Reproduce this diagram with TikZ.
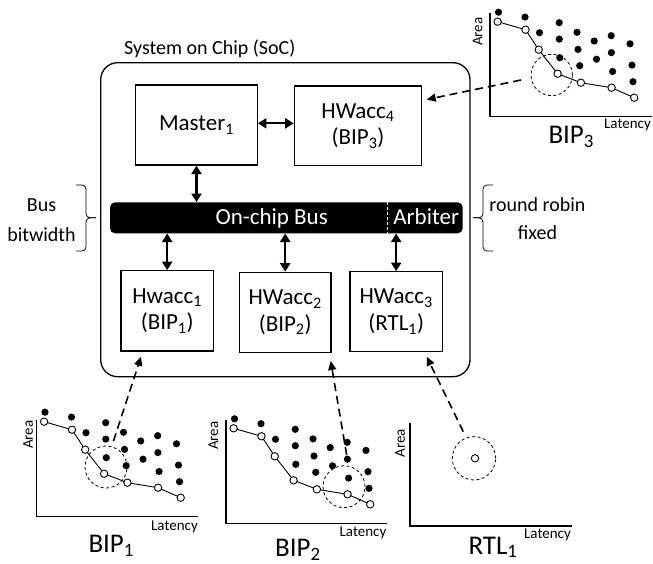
\documentclass[tikz,border=0pt]{standalone}
\usepackage{fontspec}
\setmainfont{Carlito}
\usetikzlibrary{arrows.meta}

\tikzset{
  blk/.style={draw, line width=1.2pt, align=center, inner sep=0pt,
              font=\fontsize{23}{26.5}\selectfont},
  soc/.style={draw, line width=1.3pt, rounded corners=17pt, inner sep=0pt},
  busbar/.style={fill=black, rounded corners=5pt, inner sep=0pt},
  bustext/.style={text=white, anchor=base, inner sep=0pt, font=\fontsize{23}{26}\selectfont},
  sidetext/.style={anchor=base, inner sep=0pt, font=\fontsize{20}{24}\selectfont},
  dbl/.style={line width=2.3pt, {Triangle[length=8.5pt,width=10pt]}-{Triangle[length=8.5pt,width=10pt]}},
  dasharrow/.style={line width=1.6pt, dash pattern=on 8pt off 5pt, -{Triangle[length=9pt,width=8pt]}},
  bracket/.style={line width=0.8pt, rounded corners=4pt},
  axisline/.style={line width=1.3pt},
  curve/.style={line width=0.9pt},
  opendot/.style={draw, fill=white, line width=0.9pt},
  ring/.style={line width=0.8pt, dash pattern=on 3pt off 2.5pt},
  axlab/.style={inner sep=0pt, font=\fontsize{15}{17}\selectfont},
  plotname/.style={anchor=base west, inner sep=0pt, font=\fontsize{27}{30}\selectfont},
}

% design points of one area/latency cloud, relative to the axis corner
\newcommand\drawcloud{%
  \foreach \px/\py in {8.5/-104.5, 35/-99.6, 49.5/-84, 69.2/-94, 69.3/-77.6,
      69.8/-59, 87/-84.4, 88/-67.3, 89.7/-51, 104.2/-75.7, 106.5/-57.5,
      121.2/-81, 121.4/-64.1, 122.6/-45.2, 140/-72.9, 142/-51.6, 143/-35}
    {\fill (\px,\py) circle[radius=3.6pt];}
  \draw[curve] (7.6,-95) -- (35.5,-87) -- (48.7,-67) -- (67.6,-43)
     -- (90.9,-34) -- (121.6,-29) -- (144.2,-19);
  \foreach \px/\py in {7.6/-95, 35.5/-87, 48.7/-67, 67.6/-43, 90.9/-34,
      121.6/-29, 144.2/-19}
    {\draw[opendot] (\px,\py) circle[radius=3.7pt];}
}

\begin{document}
\begin{tikzpicture}[x=1pt,y=-1pt]
\useasboundingbox (0,0) rectangle (653,564);

% ---- system on chip ----
\node[sidetext, anchor=base west] (soctitle) at (124,55) {System on Chip (SoC)};
\node[soc, minimum width=369.3pt, minimum height=314pt] (soc) at (285.35,219.7) {};

\node[blk, minimum width=121.6pt, minimum height=80pt] (master) at (196.5,125) {Master\textsubscript{1}};
\node[blk, minimum width=127.4pt, minimum height=79.7pt] (hw4) at (358,125.85) {HWacc\textsubscript{4}\\(BIP\textsubscript{3})};

\node[busbar, minimum width=352.7pt, minimum height=31pt] (bus) at (286.35,217.8) {};
\node[bustext] (bustxt) at (271.7,224.3) {On-chip Bus};
\node[bustext] (arb) at (426.2,224.3) {Arbiter};
\draw[white, line width=1pt, dash pattern=on 3pt off 2pt] (bus.north -| 387,0) -- (bus.south -| 387,0);

\node[blk, minimum width=92.3pt, minimum height=80.3pt] (hw1) at (167.2,310.9) {Hwacc\textsubscript{1}\\(BIP\textsubscript{1})};
\node[blk, minimum width=91.7pt, minimum height=80.4pt] (hw2) at (285.2,312.5) {HWacc\textsubscript{2}\\(BIP\textsubscript{2})};
\node[blk, minimum width=92.3pt, minimum height=80pt] (hw3) at (396.2,311.7) {HWacc\textsubscript{3}\\(RTL\textsubscript{1})};

\draw[dbl] (master.east |- 0,123.3) -- (hw4.west |- 0,123.3);
\draw[dbl] (master.south) -- (master.south |- bus.north);
\draw[dbl] (hw1.north) -- (hw1.north |- bus.south);
\draw[dbl] (hw2.north) -- (hw2.north |- bus.south);
\draw[dbl] (hw3.north) -- (hw3.north |- bus.south);

% ---- bus parameters ----
\draw[bracket] (76,185) -| (86,217.8) -- (96,217.8);
\draw[bracket] (76,251) -| (86,217.8) -- (96,217.8);
\node[sidetext] (buslab) at (41.5,211.5) {Bus};
\node[sidetext] (bwlab) at (41.5,241.5) {bitwidth};

\draw[bracket] (493,185) -| (483,217.8) -- (473,217.8);
\draw[bracket] (493,251) -| (483,217.8) -- (473,217.8);
\node[sidetext] (rrlab) at (537.5,211.5) {round robin};
\node[sidetext] (fxlab) at (537.5,239.5) {fixed};

% ---- BIP3 plot ----
\begin{scope}[shift={(490,116.7)}]
  \draw[axisline] (0,-103.7) -- (0,0) -- (161.7,0);
  \drawcloud
  \node[axlab, rotate=90] (a3) at (-12.5,-85) {Area};
  \node[axlab] (l3) at (137.5,8.5) {Latency};
\end{scope}
\draw[ring] (551.7,75) circle[radius=20.7pt];
\node[plotname] (n3) at (548.3,144) {BIP\textsubscript{3}};

% ---- BIP1 plot ----
\begin{scope}[shift={(36.5,516.7)}]
  \draw[axisline] (0,-96.7) -- (0,0) -- (161.8,0);
  \drawcloud
  \node[axlab, rotate=90] (a1) at (-8.5,-82) {Area};
  \node[axlab] (l1) at (138,10) {Latency};
\end{scope}
\draw[ring] (106,467) circle[radius=21pt];
\node[plotname] (n1) at (88.3,552.5) {BIP\textsubscript{1}};

% ---- BIP2 plot ----
\begin{scope}[shift={(226,523.3)}]
  \draw[axisline] (0,-103.3) -- (0,0) -- (160.7,0);
  \drawcloud
  \node[axlab, rotate=90] (a2) at (-12.7,-87.6) {Area};
  \node[axlab] (l2) at (137,10) {Latency};
\end{scope}
\draw[ring] (344,486.7) circle[radius=21pt];
\node[plotname] (n2) at (275,556.5) {BIP\textsubscript{2}};

% ---- RTL1 plot ----
\begin{scope}[shift={(410,526)}]
  \draw[axisline] (0,-102.7) -- (0,0) -- (161.7,0);
  \node[axlab, rotate=90] (a4) at (-10,-82.7) {Area};
  \node[axlab] (l4) at (137.5,9) {Latency};
\end{scope}
\draw[ring] (474,458.3) circle[radius=21.7pt];
\draw[opendot] (475,458.3) circle[radius=3.7pt];
\node[plotname] (n4) at (468.3,554) {RTL\textsubscript{1}};

% ---- selected implementations mapped to the accelerators ----
\coordinate (s3) at (521,80);
\coordinate (t3) at (426.7,99.5);
\coordinate (s1) at (113.5,441);
\coordinate (t1) at (141,356.7);
\coordinate (s2) at (346.7,455);
\coordinate (t2) at (330.7,361);
\coordinate (s4) at (463.3,431.7);
\coordinate (t4) at (426.7,356.7);
\draw[dasharrow] (s3) -- (t3);
\draw[dasharrow] (s1) -- (t1);
\draw[dasharrow] (s2) -- (t2);
\draw[dasharrow] (s4) -- (t4);
\end{tikzpicture}
\end{document}
